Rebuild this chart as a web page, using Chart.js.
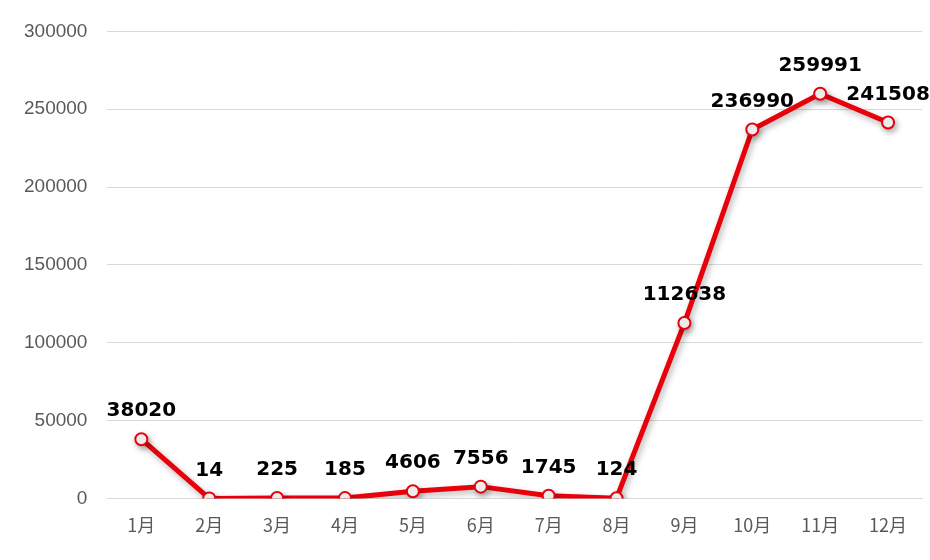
<!DOCTYPE html>
<html>
<head>
<meta charset="utf-8">
<script src="https://cdn.jsdelivr.net/npm/chart.js@4"></script>
<style>
  html, body { margin: 0; padding: 0; background: #fff; }
  #wrap { width: 930px; height: 560px; }
</style>
</head>
<body>
<div id="wrap"><canvas id="myChart"></canvas></div>
<script>
const months = ["1月", "2月", "3月", "4月", "5月", "6月", "7月", "8月", "9月", "10月", "11月", "12月"];
const values = [38020, 14, 225, 185, 4606, 7556, 1745, 124, 112638, 236990, 259991, 241508];
const yTicks = [0, 50000, 100000, 150000, 200000, 250000, 300000];

// rótulos de valor encima de cada punto
const valueLabels = {
  id: "valueLabels",
  afterDatasetsDraw(chart) {
    const ctx = chart.ctx;
    const meta = chart.getDatasetMeta(0);
    ctx.save();
    ctx.font = "bold 20px 'DejaVu Sans', sans-serif";
    ctx.fillStyle = "#000";
    ctx.textAlign = "center";
    ctx.textBaseline = "bottom";
    meta.data.forEach((pt, i) => {
      ctx.fillText(String(values[i]), pt.x, pt.y - 18);
    });
    ctx.restore();
  }
};

// sombra suave bajo la línea
const lineShadow = {
  id: "lineShadow",
  beforeDatasetsDraw(chart) {
    chart.ctx.save();
    chart.ctx.shadowColor = "rgba(0,0,0,0.3)";
    chart.ctx.shadowBlur = 6;
    chart.ctx.shadowOffsetX = 2;
    chart.ctx.shadowOffsetY = 3;
  },
  afterDatasetsDraw(chart) {
    chart.ctx.restore();
  }
};

new Chart(document.getElementById("myChart"), {
  type: "line",
  data: {
    labels: months,
    datasets: [{
      data: values,
      borderColor: "#e8000b",
      borderWidth: 5,
      pointRadius: 6,
      pointBorderWidth: 2,
      pointBackgroundColor: "#fff",
      pointBorderColor: "#e8000b",
      tension: 0
    }]
  },
  options: {
    responsive: true,
    maintainAspectRatio: false,
    animation: false,
    layout: { padding: { left: 4, right: 8, top: 8, bottom: 16 } },
    plugins: { legend: { display: false }, tooltip: { enabled: false } },
    scales: {
      x: {
        offset: true,
        grid: { display: false },
        border: { color: "#d9d9d9" },
        ticks: { color: "#595959", padding: 8, font: { size: 18, family: "'Noto Sans CJK SC', sans-serif" } }
      },
      y: {
        min: 0,
        max: 300000,
        afterBuildTicks: axis => { axis.ticks = yTicks.map(v => ({ value: v })); },
        grid: { color: "#d9d9d9", drawTicks: false },
        border: { display: false },
        ticks: {
          color: "#595959", padding: 20,
          callback: v => String(v),
          font: { size: 19, family: "'Liberation Sans', sans-serif" }
        }
      }
    }
  },
  plugins: [lineShadow, valueLabels]
});
</script>
</body>
</html>
